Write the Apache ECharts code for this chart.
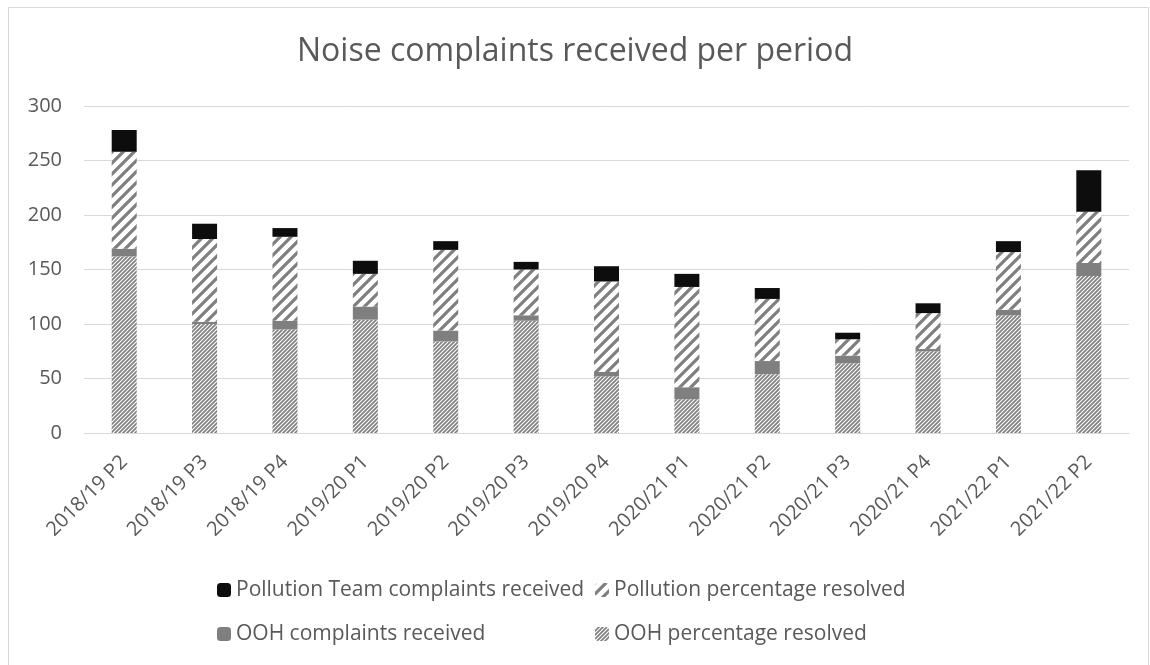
<!DOCTYPE html>
<html>
<head>
<meta charset="utf-8">
<script src="https://cdn.jsdelivr.net/npm/echarts@6/dist/echarts.min.js"></script>
<style>
  html, body { margin: 0; padding: 0; background: #fff; }
  #chart { width: 1150px; height: 665px; }
</style>
</head>
<body>
<div id="chart"></div>
<script>
// periods along the x axis
const categories = ['2018/19 P2', '2018/19 P3', '2018/19 P4', '2019/20 P1', '2019/20 P2', '2019/20 P3',
  '2019/20 P4', '2020/21 P1', '2020/21 P2', '2020/21 P3', '2020/21 P4', '2021/22 P1', '2021/22 P2'];

// stacked segments, bottom to top
const oohResolved       = [162, 100, 95, 104, 84, 103, 52, 31, 54, 64, 75, 108, 144];
const oohReceived       = [7, 2, 8, 12, 10, 5, 4, 11, 12, 7, 2, 5, 12];
const pollutionResolved = [89, 76, 77, 30, 74, 42, 83, 92, 57, 15, 33, 53, 47];
const pollutionTeam     = [20, 14, 8, 12, 8, 7, 14, 12, 10, 6, 9, 10, 38];

const yTicks = [0, 50, 100, 150, 200, 250, 300];

const textColor = '#595959';
const fontFamily = '"Open Sans", "DejaVu Sans", sans-serif';

// diagonal hatch tile: "/" stripes
function hatch(size, lineWidth, color) {
  let c = document.createElement('canvas');
  c.width = size;
  c.height = size;
  let ctx = c.getContext('2d');
  ctx.fillStyle = '#fff';
  ctx.fillRect(0, 0, size, size);
  ctx.strokeStyle = color;
  ctx.lineWidth = lineWidth;
  ctx.beginPath();
  ctx.moveTo(0, size); ctx.lineTo(size, 0);
  ctx.moveTo(-size / 2, size / 2); ctx.lineTo(size / 2, -size / 2);
  ctx.moveTo(size / 2, size * 1.5); ctx.lineTo(size * 1.5, size / 2);
  ctx.stroke();
  return { image: c, repeat: 'repeat' };
}

const fineHatch = hatch(4, 1.7, '#7f7f7f');
const wideHatch = hatch(11, 3.2, '#7f7f7f');

const chart = echarts.init(document.getElementById('chart'));

const legendText = { color: textColor, fontSize: 21, lineHeight: 24, fontFamily: fontFamily };

chart.setOption({
  backgroundColor: '#fff',
  animation: false,
  title: {
    text: 'Noise complaints received per period',
    left: 'center',
    top: 31,
    textStyle: { color: textColor, fontSize: 32, fontWeight: 'normal', fontFamily: fontFamily }
  },
  graphic: [{
    type: 'rect',
    shape: { x: 8.5, y: 7.5, width: 1140, height: 700 },
    style: { fill: 'none', stroke: '#d9d9d9', lineWidth: 1 },
    silent: true
  }],
  legend: [{
    orient: 'vertical',
    left: 212,
    top: 573,
    itemWidth: 14,
    itemHeight: 14,
    itemGap: 20,
    textStyle: legendText,
    data: ['Pollution Team complaints received', 'OOH complaints received']
  }, {
    orient: 'vertical',
    left: 590,
    top: 573,
    itemWidth: 14,
    itemHeight: 14,
    itemGap: 20,
    textStyle: legendText,
    data: ['Pollution percentage resolved', 'OOH percentage resolved']
  }],
  grid: { left: 84, right: 21, top: 106, bottom: 232 },
  xAxis: {
    type: 'category',
    data: categories,
    axisLine: { lineStyle: { color: '#d9d9d9' } },
    axisTick: { show: false },
    axisLabel: { rotate: 45, margin: 26, color: textColor, fontSize: 20, fontFamily: fontFamily, interval: 0 }
  },
  yAxis: {
    type: 'value',
    min: yTicks[0],
    max: yTicks[yTicks.length - 1],
    interval: yTicks[1] - yTicks[0],
    axisLine: { show: false },
    axisTick: { show: false },
    splitLine: { lineStyle: { color: '#d9d9d9' } },
    axisLabel: { margin: 22, color: textColor, fontSize: 20, fontFamily: fontFamily }
  },
  series: [{
    name: 'OOH percentage resolved',
    type: 'bar',
    stack: 'total',
    barWidth: 25,
    itemStyle: { color: fineHatch },
    data: oohResolved
  }, {
    name: 'OOH complaints received',
    type: 'bar',
    stack: 'total',
    itemStyle: { color: '#7f7f7f' },
    data: oohReceived
  }, {
    name: 'Pollution percentage resolved',
    type: 'bar',
    stack: 'total',
    itemStyle: { color: wideHatch },
    data: pollutionResolved
  }, {
    name: 'Pollution Team complaints received',
    type: 'bar',
    stack: 'total',
    itemStyle: { color: '#0d0d0d' },
    data: pollutionTeam
  }]
});
</script>
</body>
</html>
